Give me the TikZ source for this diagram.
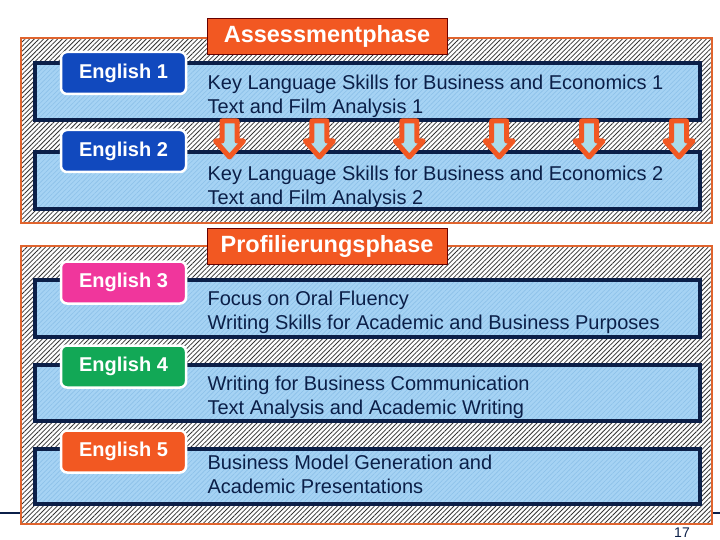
\documentclass[tikz,border=0pt]{standalone}
\usepackage{fontspec}
\setmainfont{Liberation Sans}
\usepackage{tikz}
\usetikzlibrary{patterns.meta}

\definecolor{PhaseOrange}{HTML}{F25822}
\definecolor{FrameOrange}{HTML}{E0642E}
\definecolor{BarBlue}{HTML}{A6D3F4}
\definecolor{BarHatch}{HTML}{8CC0E8}
\definecolor{BarNavy}{HTML}{0B1F48}
\definecolor{EngBlue}{HTML}{1149BE}
\definecolor{EngPink}{HTML}{F0369C}
\definecolor{EngGreen}{HTML}{12A856}
\definecolor{ArrowCyan}{HTML}{ABDCEA}

\begin{document}
\begin{tikzpicture}[x=1pt, y=-1pt, very thick,
  frame/.style={draw=FrameOrange, line width=2.5pt, preaction={fill=white},
    pattern={Lines[angle=45, distance=3.3pt, line width=0.8pt]}, pattern color=black!80},
  bar/.style={draw=BarNavy, line width=3.5pt, preaction={fill=BarBlue},
    pattern={Lines[angle=45, distance=3.3pt, line width=0.6pt]}, pattern color=BarHatch},
  tab/.style={draw=black!60!red, line width=0.8pt, fill=PhaseOrange, text=white,
    font=\fontsize{23.5}{28}\selectfont\bfseries, minimum width=240pt, minimum height=36pt, inner sep=0pt},
  course/.style={draw=white, line width=2.5pt, rounded corners=6pt, text=white,
    font=\fontsize{20}{24}\selectfont\bfseries, minimum width=125pt, minimum height=42pt, inner sep=0pt},
  topic/.style={anchor=west, align=left, text=BarNavy, font=\fontsize{20}{24}\selectfont, inner sep=0pt},
  blockarrow/.style={draw=PhaseOrange, line width=5pt, fill=ArrowCyan, line join=round}]
\useasboundingbox (0,0) rectangle (720,540);
\draw[BarNavy, line width=1.2pt] (0,513) -- (720,513);
% Assessment phase
    \draw[frame] (21,38) rectangle (712,223);
    \draw[bar] (35,63) rectangle (700,120);
    \draw[bar] (35,152) rectangle (700,209);
    \foreach \ax in {229.5,319.4,409.3,499.2,589.1,679}
      \draw[blockarrow] ({\ax-7.5},121) -- ({\ax+7.5},121) -- ({\ax+7.5},141) -- ({\ax+14},141)
        -- (\ax,157) -- ({\ax-14},141) -- ({\ax-7.5},141) -- cycle;
    \node[tab] (assess) at (327,36) {Assessmentphase};
    \node[course, fill=EngBlue] (eng1) at (123.5,73) {English 1};
    \node[course, fill=EngBlue] (eng2) at (123.5,151) {English 2};
    \node[topic] (topic1) at (207,96.5) {Key Language Skills for Business and Economics 1\\Text and Film Analysis 1};
    \node[topic] (topic2) at (207,187) {Key Language Skills for Business and Economics 2\\Text and Film Analysis 2};
% Profilierung phase
    \draw[frame] (21,246) rectangle (712,524);
    \draw[bar] (35,280) rectangle (700,337);
    \draw[bar] (35,365) rectangle (700,421);
    \draw[bar] (35,449) rectangle (700,504);
    \node[tab] (profil) at (327,246.5) {Profilierungsphase};
    \node[course, fill=EngPink] (eng3) at (123.5,282.5) {English 3};
    \node[course, fill=EngGreen] (eng4) at (123.5,366.5) {English 4};
    \node[course, fill=PhaseOrange] (eng5) at (123.5,451.5) {English 5};
    \node[topic] (topic3) at (207,312) {Focus on Oral Fluency\\Writing Skills for Academic and Business Purposes};
    \node[topic] (topic4) at (207,397) {Writing for Business Communication\\Text Analysis and Academic Writing};
    \node[topic] (topic5) at (207,474) {Business Model Generation and\\Academic Presentations};
% Page number
    \node[anchor=base, text=BarNavy, font=\fontsize{14}{16}\selectfont, inner sep=0pt] (page) at (682,537) {17};
\end{tikzpicture}
\end{document}
